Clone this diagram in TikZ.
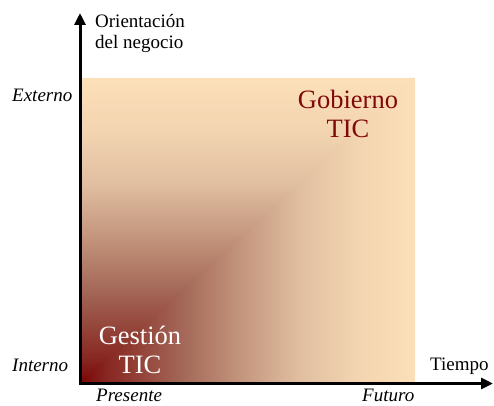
\documentclass[tikz,border=0pt]{standalone}
\usepackage{fontspec}
\setmainfont{Liberation Serif}
\usetikzlibrary{arrows.meta}
\definecolor{gA}{RGB}{122,8,8}
\definecolor{gB}{RGB}{136,40,34}
\definecolor{gC}{RGB}{163,103,87}
\definecolor{gD}{RGB}{196,150,125}
\definecolor{gE}{RGB}{224,190,160}
\definecolor{gF}{RGB}{242,212,176}
\definecolor{gG}{RGB}{252,224,185}
\definecolor{darkred}{RGB}{128,10,10}
\pgfdeclarehorizontalshading{hgrad}{100bp}{color(0bp)=(gA); color(25bp)=(gA); color(29bp)=(gB); color(40bp)=(gC); color(49bp)=(gD); color(57.5bp)=(gE); color(66bp)=(gF); color(75bp)=(gG); color(100bp)=(gG)}
\pgfdeclareverticalshading{vgrad}{100bp}{color(0bp)=(gA); color(25bp)=(gA); color(29bp)=(gB); color(40bp)=(gC); color(49bp)=(gD); color(57.5bp)=(gE); color(66bp)=(gF); color(75bp)=(gG); color(100bp)=(gG)}
\begin{document}
\begin{tikzpicture}[x=1pt,y=1pt,
  lbl/.style={font=\fontsize{19}{21}\selectfont, inner sep=0pt},
  ilbl/.style={font=\fontsize{19}{21}\selectfont\itshape, inner sep=0pt},
  big/.style={font=\fontsize{26.5}{29}\selectfont, inner sep=0pt, align=center},
  axis/.style={line width=3pt, -{Triangle[length=12pt,width=11pt]}}]
\useasboundingbox (0,0) rectangle (494,405);
% gradient area
\coordinate (bl) at (81,23);
\coordinate (br) at (415,23);
\coordinate (tr) at (415,327);
\coordinate (tl) at (81,327);
\path[shading=hgrad] (bl) -- (br) -- (tr) -- ([xshift=-4pt]tr) -- ([yshift=4pt]bl) -- cycle;
\path[shading=vgrad] (bl) -- (tl) -- (tr) -- cycle;
% axes
\coordinate (o) at (80,21.5);
\coordinate (ytip) at (80,392);
\coordinate (xtip) at (493,21.5);
\draw[axis] ([yshift=-1.5pt]o) -- (ytip);
\draw[axis] ([xshift=-1.5pt]o) -- (xtip);
% labels
\node[lbl, anchor=base west, align=left] (ori) at (95,356) {Orientación\\del negocio};
\node[lbl, anchor=base west] (tiempo) at (430,35) {Tiempo};
\node[ilbl, anchor=base west] (ext) at (12,304) {Externo};
\node[ilbl, anchor=base west] (int) at (12,34) {Interno};
\node[ilbl, anchor=base west] (pres) at (96,4) {Presente};
\node[ilbl, anchor=base west] (fut) at (362,4) {Futuro};
\node[big, text=darkred, anchor=base] (gob) at (348,268) {Gobierno\\TIC};
\node[big, text=white, anchor=base] (ges) at (140,32) {Gestión\\TIC};
\end{tikzpicture}
\end{document}
